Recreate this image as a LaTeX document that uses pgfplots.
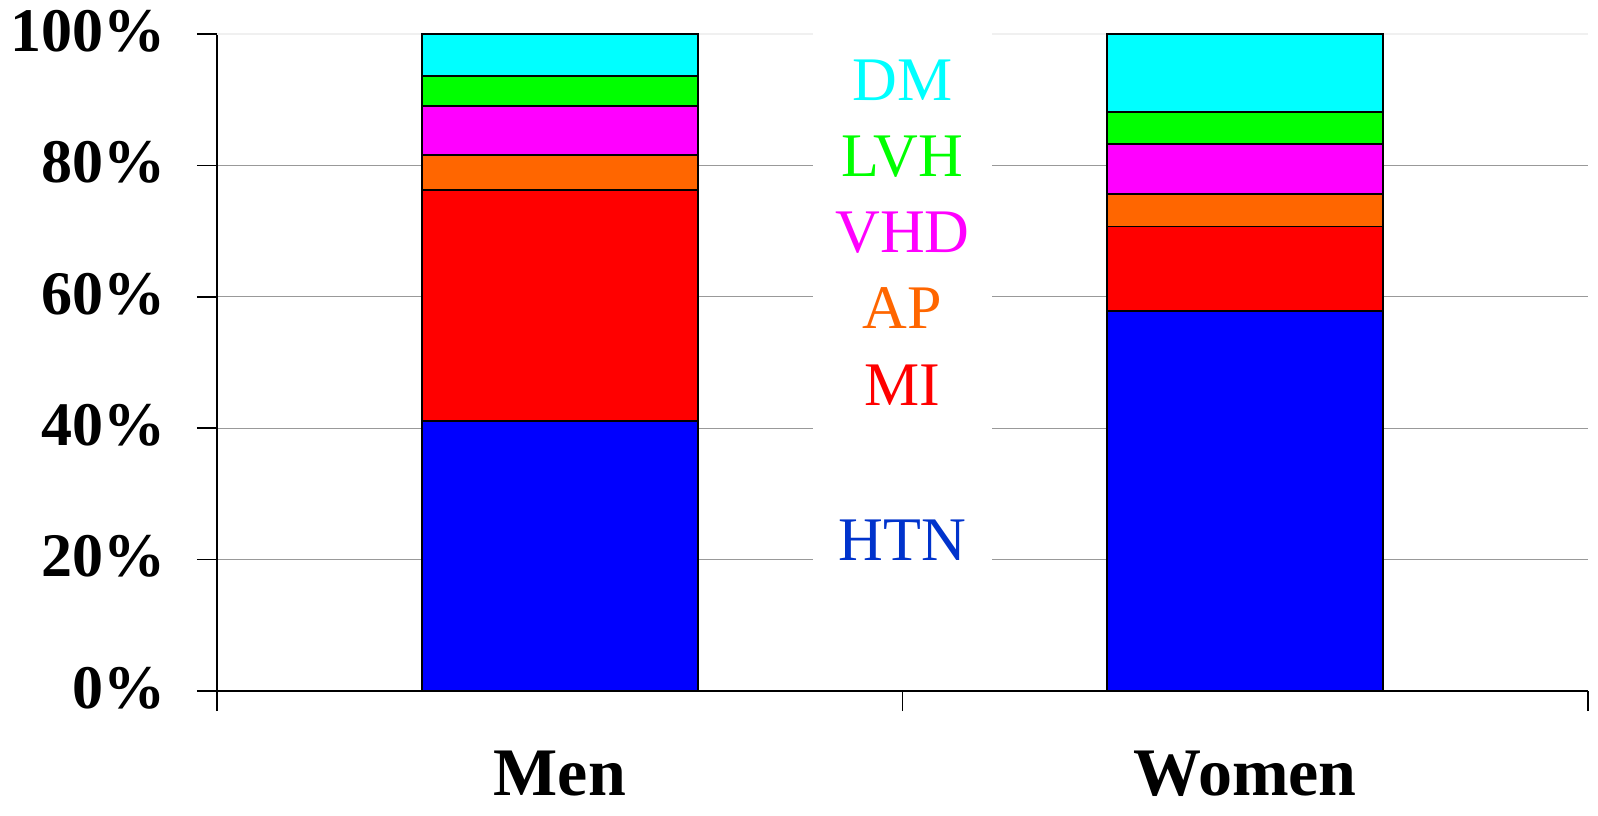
\documentclass[border=0pt]{standalone}
\usepackage{pgfplots}
\pgfplotsset{compat=1.18}
\usepackage{fontspec}
\setmainfont{Liberation Serif}
\definecolor{cDM}{RGB}{0,255,255}
\definecolor{cLVH}{RGB}{0,255,0}
\definecolor{cVHD}{RGB}{255,0,255}
\definecolor{cAP}{RGB}{255,102,0}
\definecolor{cMI}{RGB}{255,0,0}
\definecolor{cHTN}{RGB}{0,0,255}
\definecolor{tHTN}{RGB}{0,51,204}
\tikzset{lab/.style={font=\fontsize{31}{34}\selectfont, inner sep=0pt}}
\begin{document}
\begin{tikzpicture}
\begin{axis}[
 scale only axis, width=685.5pt, height=328.5pt,
 ybar stacked, bar width=138pt,
 xmin=-0.5, xmax=1.5, ymin=0, ymax=100,
 axis x line=bottom, axis y line=left,
 axis line style={-, black, line width=0.8pt},
 xtick={-0.5,0.5,1.5}, xticklabels={},
 extra x ticks={0,1}, extra x tick labels={Men,Women},
 extra x tick style={major tick length=0pt, xticklabel style={font=\fontsize{34}{38}\selectfont\bfseries, yshift=-29pt, inner sep=1pt}},
 ytick={0,20,40,60,80},
 extra y ticks={100},
 extra y tick style={grid style={gray!12, line width=0.8pt}},
 yticklabel={\pgfmathprintnumber{\tick}\%},
 yticklabel style={font=\fontsize{31}{34}\selectfont\bfseries, xshift=-12pt, yshift=1.5pt},
 /pgf/number format/assume math mode=true,
 tick align=outside, major tick length=10pt,
 tick style={black, line width=0.8pt},
 ymajorgrids, grid style={gray!80, line width=0.6pt},
 clip=false,
]
\addplot[draw=black, line width=0.9pt, fill=cHTN] coordinates {(0,41.1) (1,57.8)};
\addplot[draw=black, line width=0.9pt, fill=cMI] coordinates {(0,35.1) (1,12.9)};
\addplot[draw=black, line width=0.9pt, fill=cAP] coordinates {(0,5.4) (1,4.9)};
\addplot[draw=black, line width=0.9pt, fill=cVHD] coordinates {(0,7.4) (1,7.7)};
\addplot[draw=black, line width=0.9pt, fill=cLVH] coordinates {(0,4.6) (1,4.8)};
\addplot[draw=black, line width=0.9pt, fill=cDM] coordinates {(0,6.4) (1,11.9)};
\coordinate (wA) at (axis cs:0.369,0.6);
\coordinate (wB) at (axis cs:0.631,100.6);
\coordinate (pDM) at (axis cs:0.5,93.0);
\coordinate (pLVH) at (axis cs:0.5,81.4);
\coordinate (pVHD) at (axis cs:0.5,69.8);
\coordinate (pAP) at (axis cs:0.5,58.3);
\coordinate (pMI) at (axis cs:0.5,46.5);
\coordinate (pHTN) at (axis cs:0.5,22.9);
\end{axis}
\fill[white] (wA) rectangle (wB);
\node[lab, text=cDM] at (pDM) {DM};
\node[lab, text=cLVH] at (pLVH) {LVH};
\node[lab, text=cVHD] at (pVHD) {VHD};
\node[lab, text=cAP] at (pAP) {AP};
\node[lab, text=cMI] at (pMI) {MI};
\node[lab, text=tHTN] at (pHTN) {HTN};
\path (current axis.south west) ++(-108.5pt,-62pt) coordinate (bbA);
\path (current axis.north east) ++(5pt,17pt) coordinate (bbB);
\path (bbA) rectangle (bbB);
\end{tikzpicture}
\end{document}
